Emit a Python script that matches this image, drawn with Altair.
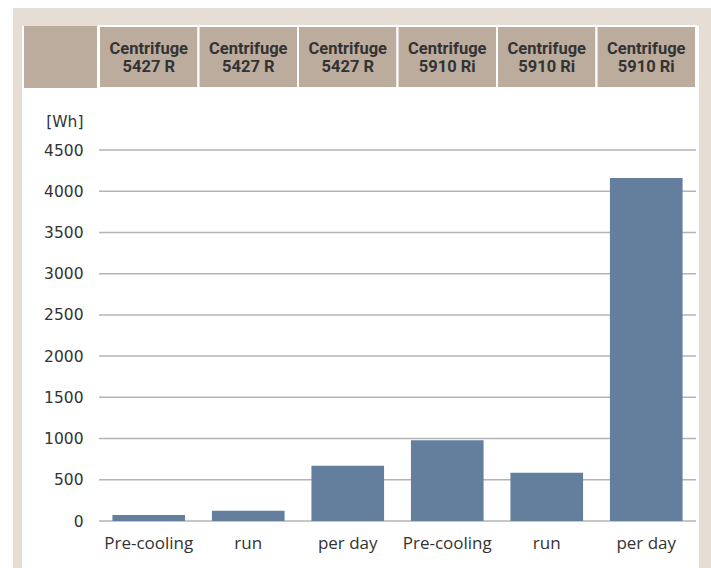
import altair as alt
import pandas as pd

# ---- data ----
models = ["5427 R", "5427 R", "5427 R", "5910 Ri", "5910 Ri", "5910 Ri"]
phases = ["Pre-cooling", "run", "per day", "Pre-cooling", "run", "per day"]
energy_wh = [72, 125, 670, 980, 585, 4160]
y_ticks = [0, 500, 1000, 1500, 2000, 2500, 3000, 3500, 4000, 4500]

keys = [f"{i}|{p}" for i, p in enumerate(phases)]
df = pd.DataFrame({
    "key": keys,
    "phase": phases,
    "model": models,
    "energy": energy_wh,
    "header": ["Centrifuge\n" + m for m in models],
})
grid_df = pd.DataFrame({"energy": y_ticks})
one = pd.DataFrame({"a": [0]})

W, H = 597, 371
BEIGE = "#e6ddd4"
HEAD = "#bcac9e"
BAR = "#637f9d"
TXT = "#333333"

x_enc = alt.X(
    "key:N", sort=keys,
    scale=alt.Scale(paddingInner=0, paddingOuter=0),
    axis=alt.Axis(
        title=None, labelExpr="split(datum.label, '|')[1]", labelAngle=0,
        ticks=False, domain=False, grid=False, labelFont="Open Sans",
        labelFontSize=17, labelColor=TXT, labelPadding=14, zindex=1,
    ),
)
y_axis = alt.Axis(
    values=y_ticks, format="d", grid=False, ticks=False, domain=False, zindex=1,
    title="[Wh]", titleAngle=0, titleAlign="right", titleX=-16, titleY=-24,
    titleBaseline="alphabetic", titleFontWeight="normal", titleFont="DejaVu Sans",
    titleFontSize=15.5, titleColor=TXT,
    labelFont="DejaVu Sans", labelFontSize=15.5, labelPadding=16, labelColor=TXT,
)
y_scale = alt.Scale(domain=[0, 4500], nice=False, zero=True)

beige = alt.Chart(one).mark_rect(color=BEIGE).encode(
    x=alt.value(-86), x2=alt.value(W + 20), y=alt.value(-142), y2=alt.value(H + 60)
)
white = alt.Chart(one).mark_rect(color="white").encode(
    x=alt.value(-77), x2=alt.value(W + 3), y=alt.value(-124), y2=alt.value(H + 60)
)
head_empty = alt.Chart(one).mark_rect(color=HEAD).encode(
    x=alt.value(-75), x2=alt.value(-2), y=alt.value(-124), y2=alt.value(-62)
)
head_cells = alt.Chart(df).mark_bar(
    width=alt.RelativeBandSize(1), color=HEAD, stroke="white", strokeWidth=2
).encode(x=x_enc, y=alt.value(-124), y2=alt.value(-62))
head_text = alt.Chart(df).mark_text(
    lineBreak="\n", font="Roboto", fontWeight="bold", fontSize=16.5,
    color=TXT, baseline="middle", lineHeight=18,
).encode(x=x_enc, y=alt.value(-101), text="header:N")

grid = alt.Chart(grid_df).mark_rule(color="#b4b4b4", strokeWidth=1.5).encode(
    y=alt.Y("energy:Q", scale=y_scale, axis=y_axis),
    x=alt.value(0), x2=alt.value(W),
)
bars = alt.Chart(df).mark_bar(width=alt.RelativeBandSize(0.73), color=BAR).encode(
    x=x_enc,
    y=alt.Y("energy:Q", scale=y_scale, axis=y_axis),
)

chart = alt.layer(beige, white, head_empty, head_cells, head_text, grid, bars).properties(
    width=W, height=H,
    autosize=alt.AutoSizeParams(type="none"),
    padding={"left": 99, "top": 150, "right": 15, "bottom": 47},
    background="white",
).configure_view(stroke=None)

chart.save("out.html", embed_options={"renderer": "svg", "actions": False})
